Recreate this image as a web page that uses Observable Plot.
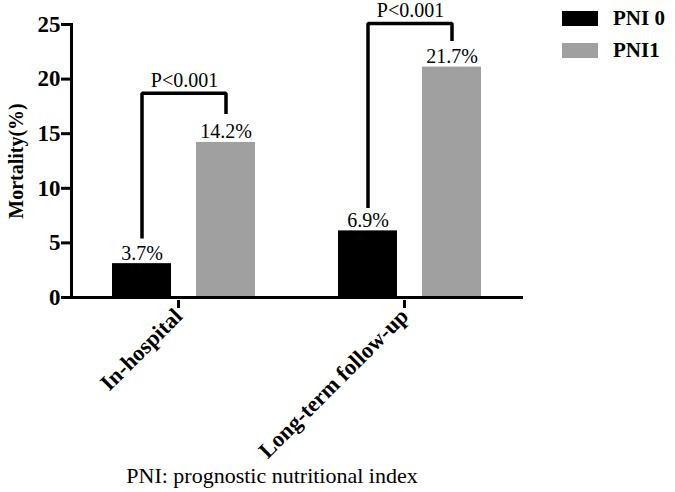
<!DOCTYPE html>
<html>
<head>
<meta charset="utf-8">
<script src="https://cdn.jsdelivr.net/npm/d3@7"></script>
<script src="https://cdn.jsdelivr.net/npm/@observablehq/plot@0.6"></script>
<style>
  body { margin: 0; background: #fff; }
  #wrap { position: relative; width: 675px; height: 492px; font-family: "Liberation Serif", "DejaVu Serif", serif; color: #000; }
  .leg { position: absolute; left: 562px; display: flex; align-items: center; }
  .sw { width: 36px; height: 15px; margin-right: 15px; }
  .lt { font-size: 21px; font-weight: bold; line-height: 1; }
  #cap { position: absolute; left: 0; width: 544px; text-align: center; top: 465px; font-size: 22px; line-height: 1; }
  #chart svg text { font-family: "Liberation Serif", "DejaVu Serif", serif; }
  #chart svg g[aria-label="y-axis tick label"] { font-size: 23px; font-weight: bold; }
</style>
</head>
<body>
<div id="wrap"><div id="chart"></div></div>
<script>
const categories = ["In-hospital", "Long-term follow-up"];
const series = ["PNI 0", "PNI1"];
const colors = ["#000000", "#a0a0a0"];
const pni0Values = [3.1, 6.1];
const pni1Values = [14.2, 21.1];
const pni0Labels = ["3.7%", "6.9%"];
const pni1Labels = ["14.2%", "21.7%"];
const pValues = ["P<0.001", "P<0.001"];
const bracketLeft = [5.4, 8.2];
const bracketTop = [18.7, 25.1];
const bracketRight = [16.8, 23.5];
const yTicks = [0, 5, 10, 15, 20, 25];
const yLabel = "Mortality(%)";
const caption = "PNI: prognostic nutritional index";

const bars = [];
categories.forEach((c, i) => {
  bars.push({category: c, series: series[0], value: pni0Values[i], label: pni0Labels[i]});
  bars.push({category: c, series: series[1], value: pni1Values[i], label: pni1Labels[i]});
});
const bracketPts = [];
const pRows = [];
categories.forEach((c, i) => {
  bracketPts.push({category: c, series: series[0], y: bracketLeft[i]});
  bracketPts.push({category: c, series: series[0], y: bracketTop[i]});
  bracketPts.push({category: c, series: series[1], y: bracketTop[i]});
  bracketPts.push({category: c, series: series[1], y: bracketRight[i]});
  pRows.push({category: c, y: bracketTop[i], text: pValues[i]});
});

const font = "'Liberation Serif', 'DejaVu Serif', serif";
const chart = Plot.plot({
  width: 675,
  height: 462,
  marginLeft: 70,
  marginRight: 152,
  marginTop: 24,
  marginBottom: 165,
  style: {fontFamily: font, color: "#000", background: "transparent", overflow: "visible"},
  fx: {domain: categories, padding: 0},
  x: {domain: series, paddingInner: 0.294, paddingOuter: 0.48, axis: null},
  y: {domain: [0, 25]},
  color: {domain: series, range: colors},
  marks: [
    Plot.barY(bars, {fx: "category", x: "series", y: "value", fill: "series"}),
    Plot.ruleY([0], {strokeWidth: 3}),
    Plot.frame({anchor: "left", facetAnchor: "left", strokeWidth: 3}),
    Plot.axisY({ticks: yTicks, tickSize: 10, strokeWidth: 3, fontSize: 23, fontWeight: "bold", tickPadding: 1, label: null}),
    Plot.axisFx({anchor: "bottom", tickSize: 8, strokeWidth: 3, tickRotate: -45, fontSize: 22.5, fontWeight: "bold", tickPadding: 4, dx: -6, dy: 3, label: null}),
    Plot.text([yLabel], {frameAnchor: "left", textAnchor: "middle", dx: -55, rotate: -90, facetAnchor: "left", fontWeight: "bold", fontSize: 20}),
    Plot.text(bars, {fx: "category", x: "series", y: "value", text: "label", dy: -4, lineAnchor: "bottom", fontSize: 20}),
    Plot.line(bracketPts, {fx: "category", x: "series", y: "y", z: "category", stroke: "#000", strokeWidth: 3.5, strokeLinejoin: "miter", strokeLinecap: "butt"}),
    Plot.text(pRows, {fx: "category", y: "y", text: "text", dy: -6, lineAnchor: "bottom", fontSize: 20})
  ]
});
document.getElementById("chart").appendChild(chart);

const wrap = document.getElementById("wrap");
const legTops = [8, 40];
series.forEach((s, i) => {
  const d = document.createElement("div");
  d.className = "leg";
  d.style.top = legTops[i] + "px";
  d.innerHTML = `<div class="sw" style="background:${colors[i]}"></div><span class="lt">${s}</span>`;
  wrap.appendChild(d);
});
const cap = document.createElement("div");
cap.id = "cap";
cap.textContent = caption;
wrap.appendChild(cap);
</script>
</body>
</html>
